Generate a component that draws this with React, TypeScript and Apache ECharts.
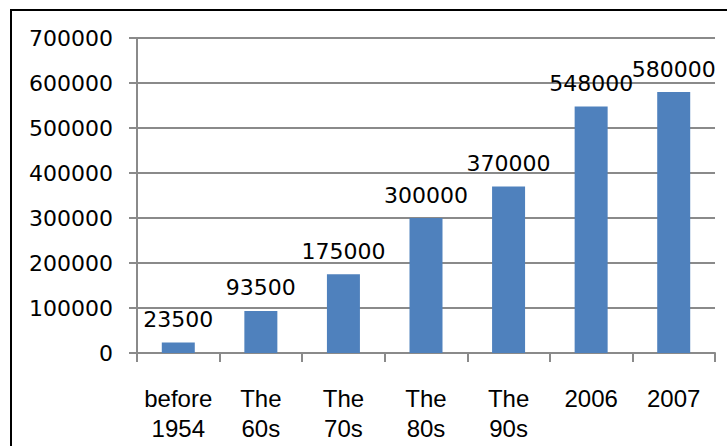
import React, { useEffect, useRef } from "react";
import * as echarts from "echarts";

const categories = ["before\n1954", "The\n60s", "The\n70s", "The\n80s", "The\n90s", "2006", "2007"];
const values = [23500, 93500, 175000, 300000, 370000, 548000, 580000];
const yTicks = { min: 0, max: 700000, interval: 100000 };

const GRID_GREY = "#8a8a8a";
const BAR_BLUE = "#4f81bd";

export default function App() {
  const ref = useRef<HTMLDivElement>(null);

  useEffect(() => {
    if (!ref.current) return;
    const chart = echarts.init(ref.current, null, { renderer: "svg" });
    chart.setOption({
      animation: false,
      backgroundColor: "#ffffff",
      grid: { left: 137, right: 12, top: 38, bottom: 93, containLabel: false },
      graphic: [
        {
          type: "rect",
          shape: { x: 11, y: 10, width: 800, height: 600 },
          style: { fill: "none", stroke: "#000000", lineWidth: 2 },
          silent: true,
        },
      ],
      xAxis: {
        type: "category",
        data: categories,
        boundaryGap: true,
        axisLine: { show: true, lineStyle: { color: GRID_GREY, width: 2 } },
        axisTick: { show: true, length: 9, alignWithLabel: false, lineStyle: { color: GRID_GREY, width: 2 } },
        axisLabel: {
          interval: 0,
          margin: 30,
          color: "#000000",
          fontFamily: "Liberation Sans",
          fontSize: 24,
          lineHeight: 30,
        },
      },
      yAxis: {
        type: "value",
        min: yTicks.min,
        max: yTicks.max,
        interval: yTicks.interval,
        axisLine: { show: true, lineStyle: { color: GRID_GREY, width: 2 } },
        axisTick: { show: true, length: 8, lineStyle: { color: GRID_GREY, width: 2 } },
        splitLine: { show: true, lineStyle: { color: GRID_GREY, width: 2 } },
        axisLabel: {
          margin: 24,
          color: "#000000",
          fontFamily: "DejaVu Sans",
          fontSize: 22,
          formatter: (v: number) => String(v),
        },
      },
      series: [
        {
          type: "bar",
          data: values,
          barWidth: 33,
          itemStyle: { color: BAR_BLUE },
          label: {
            show: true,
            position: "top",
            distance: 12,
            color: "#000000",
            fontFamily: "DejaVu Sans",
            fontSize: 22,
          },
        },
      ],
    });
    return () => chart.dispose();
  }, []);

  return (
    <div
      ref={ref}
      style={{ position: "fixed", left: 0, top: 0, width: 727, height: 446, background: "#fff" }}
    />
  );
}
